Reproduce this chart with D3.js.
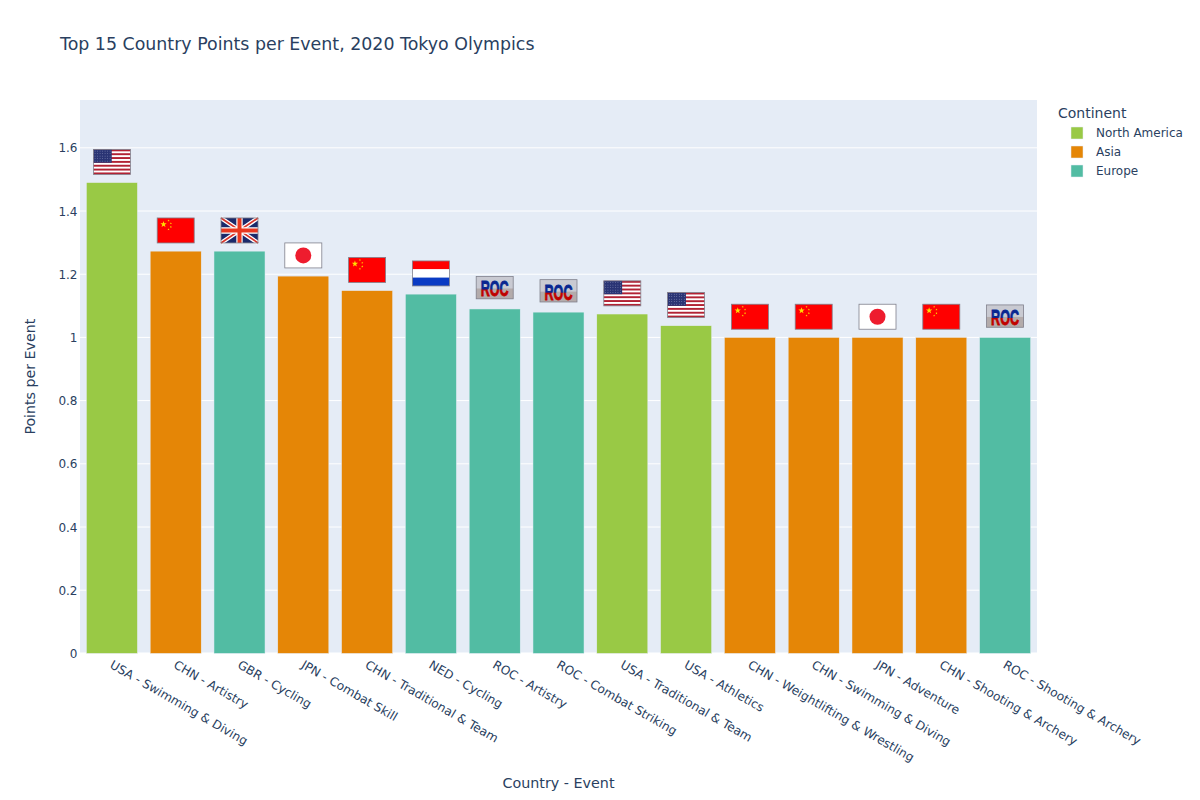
<!DOCTYPE html>
<html>
<head>
<meta charset="utf-8">
<script src="https://cdn.jsdelivr.net/npm/d3@7"></script>
<style>
html,body{margin:0;padding:0;background:#fff}
text{font-family:"DejaVu Sans",Verdana,sans-serif;fill:#2a3f5f}
</style>
</head>
<body>
<div id="chart"></div>
<script>
const categories = ["USA - Swimming & Diving","CHN - Artistry","GBR - Cycling","JPN - Combat Skill","CHN - Traditional & Team","NED - Cycling","ROC - Artistry","ROC - Combat Striking","USA - Traditional & Team","USA - Athletics","CHN - Weightlifting & Wrestling","CHN - Swimming & Diving","JPN - Adventure","CHN - Shooting & Archery","ROC - Shooting & Archery"];
const pointsPerEvent = [1.49,1.273,1.273,1.194,1.148,1.137,1.09,1.08,1.074,1.037,1,1,1,1,1];
const continents = ["North America","Asia","Europe","Asia","Asia","Europe","Europe","Europe","North America","North America","Asia","Asia","Asia","Asia","Europe"];
const flagCodes = ["USA","CHN","GBR","JPN","CHN","NED","ROC","ROC","USA","USA","CHN","CHN","JPN","CHN","ROC"];
const legendNames = ["North America","Asia","Europe"];
const legendColors = ["#99C945","#E58606","#52BCA3"];
const yTicks = [0,0.2,0.4,0.6,0.8,1,1.2,1.4,1.6];

const W=1200,H=800,L=80,R=1037,T=100,B=653.4;
const svg=d3.select("#chart").append("svg").attr("width",W).attr("height",H).style("display","block");
const x=d3.scaleBand().domain(d3.range(categories.length)).range([L,R]).paddingInner(0.2).paddingOuter(0.1);
const y=d3.scaleLinear().domain([0,1.7513]).range([B,T]);
const color=d3.scaleOrdinal().domain(legendNames).range(legendColors);

svg.append("rect").attr("x",L).attr("y",T).attr("width",R-L).attr("height",B-T).attr("fill","#E5ECF6");

svg.append("g").selectAll("line").data(yTicks).join("line")
  .attr("x1",L).attr("x2",R).attr("y1",d=>y(d)).attr("y2",d=>y(d))
  .attr("stroke","#fff").attr("stroke-width",d=>d===0?2:1);

svg.append("g").selectAll("rect").data(pointsPerEvent).join("rect")
  .attr("x",(d,i)=>x(i)).attr("width",x.bandwidth())
  .attr("y",d=>y(d)).attr("height",d=>y(0)-y(d))
  .attr("fill",(d,i)=>color(continents[i]))
  .attr("stroke","#E5ECF6").attr("stroke-width",0.5);

// y axis
const yAxis=d3.axisLeft(y).tickValues(yTicks).tickSize(0).tickPadding(2).tickFormat(d3.format("~g"));
const gy=svg.append("g").attr("transform",`translate(${L-0.5},0.3)`).call(yAxis);
gy.select(".domain").remove();
gy.selectAll("text").attr("font-size",12).style("font-family",'"DejaVu Sans",Verdana,sans-serif').style("fill","#2a3f5f");

// x axis
const gx=svg.append("g");
gx.selectAll("text").data(categories).join("text")
  .attr("transform",(d,i)=>`translate(${x(i)+x.bandwidth()/2+2},${B+5.5}) rotate(30)`)
  .attr("dy","0.8em").attr("font-size",12.15).text(d=>d);

// flags: drawn in a 111x75 local unit box
const defs=svg.append("defs");
const g1=defs.append("linearGradient").attr("id","rocText").attr("x1",0).attr("x2",0).attr("y1",0).attr("y2",1);
g1.append("stop").attr("offset","0.52").attr("stop-color","#0a2590");
g1.append("stop").attr("offset","0.56").attr("stop-color","#c00000");

function star(g,cx,cy,r,fill){
  const pts=d3.range(10).map(k=>{const a=-Math.PI/2+k*Math.PI/5,rr=k%2?r*0.4:r;return [cx+rr*Math.cos(a),cy+rr*Math.sin(a)].join(",")}).join(" ");
  g.append("polygon").attr("points",pts).attr("fill",fill);
}
const flagDraw={
  USA(g){
    g.append("rect").attr("width",111).attr("height",75).attr("fill","#fff");
    d3.range(0,13,2).forEach(k=>g.append("rect").attr("y",k*75/13).attr("width",111).attr("height",75/13).attr("fill","#B22234"));
    g.append("rect").attr("width",55).attr("height",40).attr("fill","#2A3474");
    d3.range(5).forEach(r=>d3.range(7).forEach(c=>g.append("circle").attr("cx",5+c*7.5).attr("cy",5+r*7.5).attr("r",1.1).attr("fill","#c4cbe6")));
  },
  CHN(g){
    g.append("rect").attr("width",111).attr("height",75).attr("fill","#FF0000");
    star(g,19,19,10,"#FFDE00");
    [[34,8],[41,16],[41,27],[34,34]].forEach(p=>star(g,p[0],p[1],3.4,"#FFDE00"));
  },
  GBR(g){
    g.append("rect").attr("width",111).attr("height",75).attr("fill","#1B2A6B");
    g.append("path").attr("d","M0 0L111 75M111 0L0 75").attr("stroke","#fff").attr("stroke-width",13);
    g.append("path").attr("d","M0 0L111 75M111 0L0 75").attr("stroke","#D8352A").attr("stroke-width",5);
    g.append("path").attr("d","M55.5 0V75M0 37.5H111").attr("stroke","#fff").attr("stroke-width",19);
    g.append("path").attr("d","M55.5 0V75M0 37.5H111").attr("stroke","#E8381F").attr("stroke-width",12);
  },
  JPN(g){
    g.append("rect").attr("width",111).attr("height",75).attr("fill","#fff");
    g.append("circle").attr("cx",55.5).attr("cy",37.5).attr("r",24).attr("fill","#EE1C2E");
  },
  NED(g){
    ["#FF0000","#fff","#0A3BC4"].forEach((c,k)=>g.append("rect").attr("y",k*25).attr("width",111).attr("height",25).attr("fill",c));
  },
  ROC(g){
    g.append("rect").attr("width",111).attr("height",67).attr("fill","#C9CAD2");
    g.append("rect").attr("y",36).attr("width",111).attr("height",31).attr("fill","#B3ABAB");
    g.append("text").attr("x",55.5).attr("y",60).attr("text-anchor","middle")
      .attr("font-size",68).attr("font-weight",700).attr("textLength",84).attr("lengthAdjust","spacingAndGlyphs")
      .style("font-family",'"Liberation Sans Narrow","Liberation Sans",sans-serif')
      .style("fill","url(#rocText)").style("stroke","url(#rocText)").style("stroke-width",2.5).text("ROC");
  }
};
const flagW=37, unit=flagW/111;
const fg=svg.append("g");
flagCodes.forEach((code,i)=>{
  const top=y(pointsPerEvent[i]+0.105)+(code==="ROC"?0.7:0);
  const g=fg.append("g").attr("transform",`translate(${x(i)+x.bandwidth()/2-flagW/2},${top}) scale(${unit})`);
  flagDraw[code](g);
  g.append("rect").attr("width",111).attr("height",code==="ROC"?67:75).attr("fill","none").attr("stroke","#80808c").attr("stroke-width",2.4);
});

// titles
svg.append("text").attr("x",60).attr("y",50).attr("font-size",17.4).text("Top 15 Country Points per Event, 2020 Tokyo Olympics");
svg.append("text").attr("x",558.5).attr("y",788).attr("text-anchor","middle").attr("font-size",14.3).text("Country - Event");
svg.append("text").attr("transform",`translate(35,${(T+B)/2}) rotate(-90)`).attr("text-anchor","middle").attr("font-size",14.2).text("Points per Event");

// legend
const lg=svg.append("g");
lg.append("text").attr("x",1058).attr("y",118).attr("font-size",14).text("Continent");
const rowY=d3.scalePoint().domain(legendNames).range([133,171]);
legendNames.forEach((n,i)=>{
  lg.append("rect").attr("x",1071).attr("y",rowY(n)-6).attr("width",12).attr("height",12).attr("fill",legendColors[i]).attr("stroke","#E5ECF6").attr("stroke-width",0.5);
  lg.append("text").attr("x",1096).attr("y",rowY(n)+4).attr("font-size",12).text(n);
});
</script>
</body>
</html>
